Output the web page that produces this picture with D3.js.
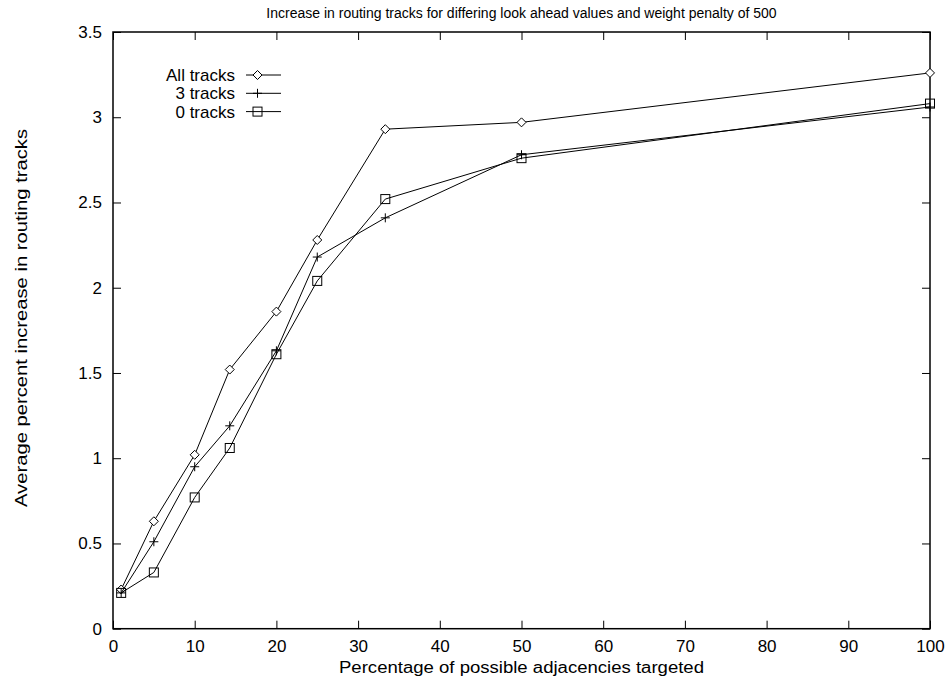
<!DOCTYPE html>
<html lang="en">
<head>
    <meta charset="UTF-8">
    <title>Increase in routing tracks</title>
    <script src="https://cdnjs.cloudflare.com/ajax/libs/d3/7.8.5/d3.min.js"></script>
    <style>
        body {
            margin: 0;
            background: white;
        }
        svg text {
            font-family: "Liberation Sans", Arial, sans-serif;
            fill: black;
        }
    </style>
</head>
<body>
    <div id="chart"></div>

    <script>
        // Data
        const xValues = [1, 5, 10, 14.29, 20, 25, 33.33, 50, 100];
        const allTracks = [0.23, 0.63, 1.02, 1.52, 1.86, 2.28, 2.93, 2.97, 3.26];
        const threeTracks = [0.21, 0.51, 0.95, 1.19, 1.63, 2.18, 2.41, 2.78, 3.06];
        const zeroTracks = [0.21, 0.33, 0.77, 1.06, 1.61, 2.04, 2.52, 2.76, 3.08];
        const seriesNames = ["All tracks", "3 tracks", "0 tracks"];
        const seriesMarkers = ["diamond", "plus", "square"];
        const xTicks = [0, 10, 20, 30, 40, 50, 60, 70, 80, 90, 100];
        const yTicks = [0, 0.5, 1, 1.5, 2, 2.5, 3, 3.5];

        const title = "Increase in routing tracks for differing look ahead values and weight penalty of 500";
        const xLabel = "Percentage of possible adjacencies targeted";
        const yLabel = "Average percent increase in routing tracks";

        const width = 950, height = 681;
        const margin = { left: 113, right: 20, top: 32, bottom: 52 };

        const svg = d3.select("#chart")
            .append("svg")
            .attr("width", width)
            .attr("height", height);

        const x = d3.scaleLinear().domain([0, 100]).range([margin.left, width - margin.right]);
        const y = d3.scaleLinear().domain([0, 3.5]).range([height - margin.bottom - 0.3, margin.top]);

        // Ticks, mirrored on all four sides like gnuplot
        const tickLen = 8;
        const fmt = d => String(d);
        const bottomAxis = d3.axisBottom(x).tickValues(xTicks).tickFormat(fmt).tickSizeInner(-tickLen).tickSizeOuter(0).tickPadding(11);
        const topAxis = d3.axisTop(x).tickValues(xTicks).tickSizeInner(-tickLen).tickSizeOuter(0).tickFormat("");
        const leftAxis = d3.axisLeft(y).tickValues(yTicks).tickFormat(fmt).tickSizeInner(-tickLen).tickSizeOuter(0).tickPadding(11);
        const rightAxis = d3.axisRight(y).tickValues(yTicks).tickSizeInner(-tickLen).tickSizeOuter(0).tickFormat("");

        function styleAxis(g) {
            g.select(".domain").remove();
            g.selectAll(".tick line").attr("stroke", "black").attr("stroke-width", 1);
            g.selectAll(".tick text").style("font-size", "17px");
        }

        svg.append("g").attr("transform", `translate(0,${y(0)})`).call(bottomAxis).call(styleAxis);
        svg.append("g").attr("transform", `translate(0,${y(3.5)})`).call(topAxis).call(styleAxis);
        svg.append("g").attr("transform", `translate(${x(0)},0)`).call(leftAxis).call(styleAxis);
        svg.append("g").attr("transform", `translate(${x(100)},0)`).call(rightAxis).call(styleAxis);

        // Frame
        svg.append("rect")
            .attr("x", x(0))
            .attr("y", y(3.5))
            .attr("width", x(100) - x(0))
            .attr("height", y(0) - y(3.5))
            .attr("fill", "none")
            .attr("stroke", "black")
            .attr("stroke-width", 1.5);

        // Marker drawing
        function drawMarker(g, type, cx, cy) {
            const r = 4.5;
            if (type === "diamond") {
                g.append("path")
                    .attr("d", `M${cx},${cy - r}L${cx + r},${cy}L${cx},${cy + r}L${cx - r},${cy}Z`)
                    .attr("fill", "white").attr("stroke", "black");
            } else if (type === "plus") {
                g.append("path")
                    .attr("d", `M${cx - r},${cy}H${cx + r}M${cx},${cy - r}V${cy + r}`)
                    .attr("stroke", "black");
            } else {
                g.append("rect")
                    .attr("x", cx - r).attr("y", cy - r)
                    .attr("width", 2 * r).attr("height", 2 * r)
                    .attr("fill", "none").attr("stroke", "black");
            }
        }

        const line = d3.line().x(d => x(d[0])).y(d => y(d[1]));
        const allSeries = [allTracks, threeTracks, zeroTracks];

        allSeries.forEach((vals, i) => {
            const pts = xValues.map((v, j) => [v, vals[j]]);
            const g = svg.append("g");
            g.append("path")
                .datum(pts)
                .attr("d", line)
                .attr("fill", "none")
                .attr("stroke", "black")
                .attr("stroke-width", 1);
            pts.forEach(p => drawMarker(g, seriesMarkers[i], x(p[0]), y(p[1])));
        });

        // Legend
        const legend = svg.append("g");
        seriesNames.forEach((name, i) => {
            const ly = 75 + i * 18.3;
            legend.append("text")
                .attr("x", 235)
                .attr("y", ly + 6)
                .attr("text-anchor", "end")
                .style("font-size", "17px")
                .text(name);
            legend.append("line")
                .attr("x1", 246).attr("x2", 281)
                .attr("y1", ly).attr("y2", ly)
                .attr("stroke", "black");
            drawMarker(legend, seriesMarkers[i], 257.5, ly);
        });

        // Titles
        svg.append("text")
            .attr("x", (x(0) + x(100)) / 2)
            .attr("y", 18)
            .attr("text-anchor", "middle")
            .style("font-size", "14px")
            .text(title);

        svg.append("text")
            .attr("x", 521.5)
            .attr("y", 673)
            .attr("text-anchor", "middle")
            .attr("textLength", 365)
            .attr("lengthAdjust", "spacingAndGlyphs")
            .style("font-size", "16px")
            .text(xLabel);

        svg.append("text")
            .attr("transform", `translate(26.5,318) rotate(-90)`)
            .attr("text-anchor", "middle")
            .attr("textLength", 378)
            .attr("lengthAdjust", "spacingAndGlyphs")
            .style("font-size", "16px")
            .text(yLabel);
    </script>
</body>
</html>
